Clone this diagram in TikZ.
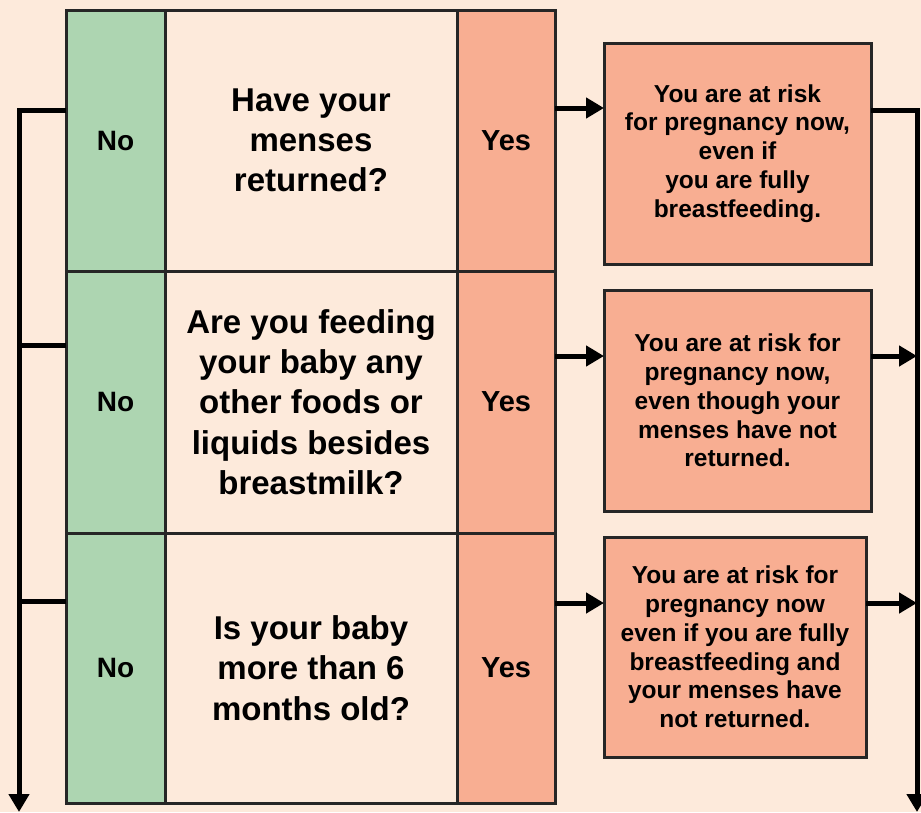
\documentclass[tikz,border=0pt]{standalone}
\usepackage{fontspec}
\setmainfont{Liberation Sans}
\usepackage{xcolor}
\usepackage{tikz}
\usetikzlibrary{positioning,arrows.meta}
\definecolor{paper}{HTML}{FDEADB}
\definecolor{nogreen}{HTML}{ADD5B1}
\definecolor{yessalmon}{HTML}{F8AE92}
\tikzset{cell/.style={draw=black!85,line width=3pt,outer sep=0pt,inner sep=0pt,align=center},
  no node/.style={cell,fill=nogreen,minimum width=99pt,font=\bfseries\fontsize{28}{32}\selectfont},
  yes node/.style={cell,fill=yessalmon,minimum width=98pt,font=\bfseries\fontsize{29}{32}\selectfont},
  question node/.style={cell,fill=paper,minimum width=292pt,font=\bfseries\fontsize{33}{40.3}\selectfont},
  risk node/.style={cell,fill=yessalmon,font=\bfseries\fontsize{24.5}{28.8}\selectfont},
  flow/.style={line width=5pt},
  flow arrow/.style={flow,-{Triangle[length=18pt,width=20pt]}},}

\begin{document}
\begin{tikzpicture}[x=1pt,y=-1pt]
    \useasboundingbox[fill=paper] (0,0) rectangle (921,812);
    % table
    \node[no node,minimum height=261pt] (no1) at (115.5,140.5) {No};
    \node[question node,minimum height=261pt] (q1) [right=0pt of no1] {Have your\\menses\\returned?};
    \node[yes node,minimum height=261pt] (yes1) [right=0pt of q1] {Yes};
    \node[no node,minimum height=262pt] (no2) [below=0pt of no1] {No};
    \node[question node,minimum height=262pt] (q2) [right=0pt of no2] {Are you feeding\\your baby any\\other foods or\\liquids besides\\breastmilk?};
    \node[yes node,minimum height=262pt] (yes2) [right=0pt of q2] {Yes};
    \node[no node,minimum height=270pt] (no3) [below=0pt of no2] {No};
    \node[question node,minimum height=270pt] (q3) [right=0pt of no3] {Is your baby\\more than 6\\months old?};
    \node[yes node,minimum height=270pt] (yes3) [right=0pt of q3] {Yes};

    % outcomes
    \node[risk node,minimum width=267pt,minimum height=221pt] (risk1) at (737.5,153.5) {You are at risk\\for pregnancy now,\\even if\\you are fully\\breastfeeding.};
    \node[risk node,minimum width=267pt,minimum height=221pt] (risk2) at (737.5,400.5) {You are at risk for\\pregnancy now,\\even though your\\menses have not\\returned.};
    \node[risk node,minimum width=262pt,minimum height=220pt] (risk3) at (735,647) {You are at risk for\\pregnancy now\\even if you are fully\\breastfeeding and\\your menses have\\not returned.};

    \coordinate (left1) at (19,110);
    \coordinate (left2) at (19,345);
    \coordinate (left3) at (19,601);
    \coordinate (left end) at (19,812);
    \coordinate (right1) at (917,110);
    \coordinate (right end) at (917,812);
    \coordinate (in1) at (580,108);
    \coordinate (in2) at (580,356);
    \coordinate (in3) at (580,603);

    \draw[flow arrow] (no1.west |- left1) -| (left end);
    \draw[flow] (no2.west |- left2) -- (left2);
    \draw[flow] (no3.west |- left3) -- (left3);

    \draw[flow arrow] (yes1.east |- in1) -- (risk1.west |- in1);
    \draw[flow arrow] (yes2.east |- in2) -- (risk2.west |- in2);
    \draw[flow arrow] (yes3.east |- in3) -- (risk3.west |- in3);

    \draw[flow arrow] (risk1.east |- right1) -| (right end);
    \draw[flow arrow] (risk2.east |- in2) -- (right end |- in2);
    \draw[flow arrow] (risk3.east |- in3) -- (right end |- in3);
\end{tikzpicture}
\end{document}
